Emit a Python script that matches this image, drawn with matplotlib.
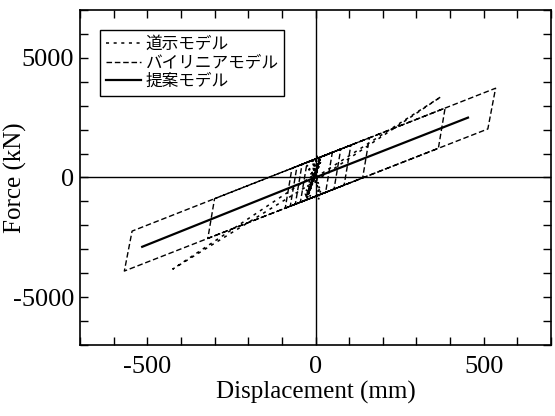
import matplotlib
matplotlib.use("Agg")
import matplotlib.pyplot as plt

# axis ticks
x_ticks = list(range(-700, 701, 100))
x_tick_labels = ["" if v % 500 else str(v) for v in x_ticks]
y_ticks = list(range(-7000, 7001, 1000))
y_tick_labels = ["" if v % 5000 else str(v) for v in y_ticks]

# 道示モデル (road spec model): thin loop plus dense small cycles near origin
doji_x = [0, 373, 0, -424, 0]
doji_f = [0, 3375, -150, -3830, 150]
doji_core_x = [0, 12, -22, 15, -26, 10, -28, 14, -20, 16, -24, 8, -18, 5,
               -30, 12, -10, 15, -25, 0]
doji_core_f = [0, 750, -700, 820, -850, 600, -780, 850, -600, 700, -820, 450,
               -500, 880, -700, -900, 800, -650, 500, 0]

# バイリニアモデル (bilinear model): loop vertices
bilin_x = [0, 10, 50, 30, -45, -25, 75, 55, -60, -40, 105, 85, -75, -55,
           160, 140, -90, -70, 385, 365, -320, -300, 535, 512, -568, -545, 0]
bilin_f = [0, 800, 1050, -625, -1040, 630, 1185, -488, -1120, 550, 1350, -322,
           -1200, 466, 1655, -20, -1285, 383, 2900, 1218, -2550, -889, 3729,
           2026, -3914, -2244, 770]

# 提案モデル (proposed model)
prop_x = [-515, 0, 453]
prop_f = [-2900, 0, 2500]

fig = plt.figure(figsize=(5.55, 4.16), dpi=100)
ax = fig.add_axes([0.144, 0.171, 0.849, 0.805])

ax.axhline(0, color="black", lw=1.0)
ax.axvline(0, color="black", lw=1.0)

ax.plot(doji_x, doji_f, color="black", lw=1.1, ls=(0, (2, 3)), label="道示モデル")
ax.plot(doji_core_x, doji_core_f, color="black", lw=1.3, ls=(0, (1, 1.5)))
ax.plot(bilin_x, bilin_f, color="black", lw=1.0, ls=(0, (4, 2)), label="バイリニアモデル")
ax.plot(prop_x, prop_f, color="black", lw=1.6, label="提案モデル")

ax.set_xlim(-700, 700)
ax.set_ylim(-7000, 7000)
ax.set_xticks(x_ticks)
ax.set_xticklabels(x_tick_labels)
ax.set_yticks(y_ticks)
ax.set_yticklabels(y_tick_labels)
ax.tick_params(direction="in", length=6, width=1, top=True, right=True,
               labelsize=19)
ax.tick_params(axis="x", pad=8)
ax.tick_params(axis="y", pad=4)
for lbl in ax.get_xticklabels() + ax.get_yticklabels():
    lbl.set_family("Liberation Serif")
for s in ax.spines.values():
    s.set_linewidth(1.2)

ax.set_xlabel("Displacement (mm)", family="Liberation Serif", fontsize=18, labelpad=2)
ax.set_ylabel("Force (kN)", family="Liberation Serif", fontsize=18)
ax.yaxis.set_label_coords(-0.112, 0.5)

leg = ax.legend(loc="upper left", bbox_to_anchor=(0.042, 0.94), frameon=True,
                fancybox=False, edgecolor="black", framealpha=1,
                prop={"family": ["Noto Sans CJK JP", "DejaVu Sans"], "size": 12},
                handlelength=2.1, handletextpad=0.3, borderpad=0.35,
                labelspacing=0.1, borderaxespad=0)
leg.get_frame().set_linewidth(1.0)

fig.savefig("out.png", dpi=100)
